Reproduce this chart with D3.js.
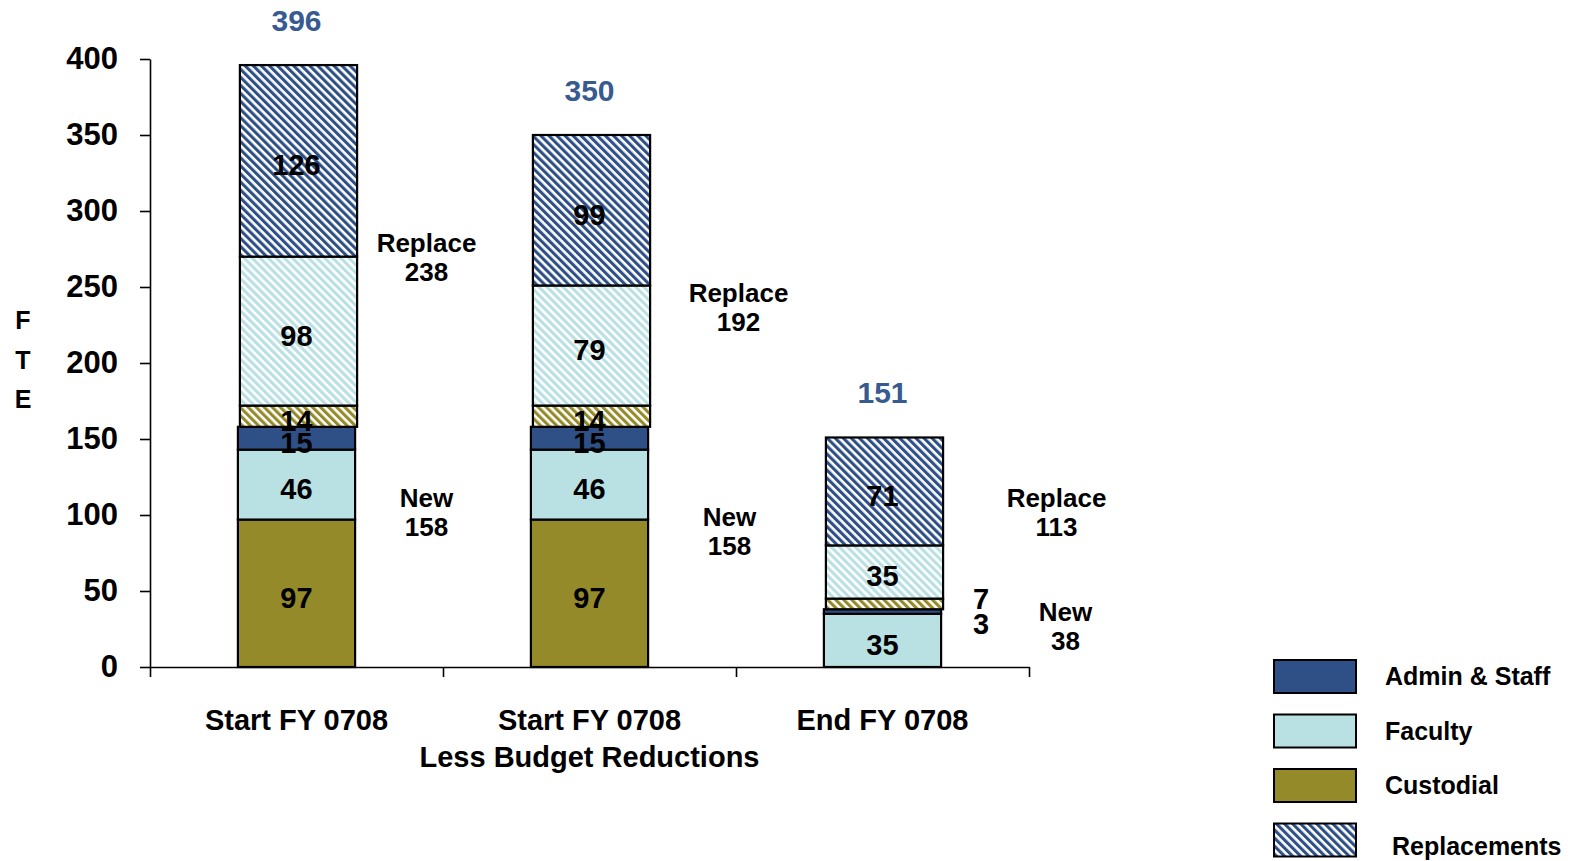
<!DOCTYPE html>
<html>
<head>
<meta charset="utf-8">
<script src="https://cdn.jsdelivr.net/npm/d3@7"></script>
<style>
  body { margin: 0; background: #fff; }
  text { font-family: "Liberation Sans", Arial, sans-serif; font-weight: bold; }
</style>
</head>
<body>
<script>
// data
const categories = [["Start FY 0708"], ["Start FY 0708", "Less Budget Reductions"], ["End FY 0708"]];
const newCustodial  = [97, 97, 0];
const newFaculty    = [46, 46, 35];
const newAdmin      = [15, 15, 3];
const replCustodial = [14, 14, 7];
const replFaculty   = [98, 79, 35];
const replAdmin     = [126, 99, 71];
const yTicks = [0, 50, 100, 150, 200, 250, 300, 350, 400];
const legendLabels = ["Admin & Staff", "Faculty", "Custodial", "Replacements"];

// layout for the side notes (anchor value on the y scale, x offset from bar centre)
const replaceNoteAt = [273, 240, 105];
const replaceNoteDx = [130, 149, 174];
const newNoteAt = [105, 93, 30];
const newNoteDx = [130, 140, 183];

const W = 1583, H = 861;
const colors = { admin: "#2E5086", faculty: "#B9E0E3", custodial: "#958A2A", total: "#375A91" };

const svg = d3.select("body").append("svg")
  .attr("width", W)
  .attr("height", H);

// hatch patterns
const defs = svg.append("defs");
function hatch(id, color) {
  const p = defs.append("pattern")
    .attr("id", id)
    .attr("patternUnits", "userSpaceOnUse")
    .attr("width", 5.7)
    .attr("height", 5.7)
    .attr("patternTransform", "rotate(-45)");
  p.append("rect").attr("width", 5.7).attr("height", 5.7).attr("fill", "#fff");
  p.append("rect").attr("width", 3.1).attr("height", 5.7).attr("fill", color);
}
hatch("h-admin", colors.admin);
hatch("h-faculty", colors.faculty);
hatch("h-custodial", colors.custodial);

const keys = ["newCustodial", "newFaculty", "newAdmin", "replCustodial", "replFaculty", "replAdmin"];
const fills = {
  newCustodial: colors.custodial, newFaculty: colors.faculty, newAdmin: colors.admin,
  replCustodial: "url(#h-custodial)", replFaculty: "url(#h-faculty)", replAdmin: "url(#h-admin)"
};

const rows = categories.map((c, i) => ({
  idx: i,
  newCustodial: newCustodial[i], newFaculty: newFaculty[i], newAdmin: newAdmin[i],
  replCustodial: replCustodial[i], replFaculty: replFaculty[i], replAdmin: replAdmin[i]
}));
const stacked = d3.stack().keys(keys)(rows);

const x = d3.scaleBand()
  .domain(d3.range(categories.length))
  .range([150, 1029])
  .paddingInner(0.6)
  .paddingOuter(0.3);
const xEdge = d3.scaleLinear().domain([0, categories.length]).range([150, 1029]);
const y = d3.scaleLinear().domain([0, 400]).range([667, 59]);

// axes
const yAxis = svg.append("g")
  .attr("transform", "translate(150,0)")
  .call(d3.axisLeft(y).tickValues(yTicks).tickSize(10).tickSizeOuter(0).tickPadding(22));
yAxis.selectAll("text")
  .style("font-size", "31px")
  .style("font-family", "'Liberation Sans', Arial, sans-serif")
  .style("font-weight", "bold")
  .attr("fill", "#000");
yAxis.selectAll("line, path").attr("stroke", "#000").attr("stroke-width", 1.6);

const xAxis = svg.append("g")
  .attr("transform", "translate(0,667)")
  .call(d3.axisBottom(xEdge).tickValues(d3.range(categories.length + 1)).tickFormat("").tickSize(10).tickSizeOuter(0));
xAxis.selectAll("line, path").attr("stroke", "#000").attr("stroke-width", 1.6);

// category labels
categories.forEach((lines, i) => {
  const t = svg.append("text")
    .attr("x", x(i) + x.bandwidth() / 2)
    .attr("y", 730)
    .attr("text-anchor", "middle")
    .style("font-size", "29px");
  lines.forEach((ln, j) => {
    t.append("tspan").attr("x", x(i) + x.bandwidth() / 2).attr("dy", j ? 37 : 0).text(ln);
  });
});

// FTE axis title
["F", "T", "E"].forEach((ch, j) => {
  svg.append("text")
    .attr("x", 23)
    .attr("y", 329 + j * 39.5)
    .attr("text-anchor", "middle")
    .style("font-size", "25px")
    .text(ch);
});

// bars
const shift = k => k.startsWith("repl") ? 2 : 0;
svg.append("g").selectAll("g")
  .data(stacked)
  .join("g")
  .attr("fill", d => fills[d.key])
  .selectAll("rect")
  .data(d => d.map(v => Object.assign(v, { key: d.key })))
  .join("rect")
  .filter(d => d[1] - d[0] > 0)
  .attr("x", d => x(d.data.idx) + shift(d.key))
  .attr("y", d => y(d[1]))
  .attr("width", x.bandwidth())
  .attr("height", d => y(d[0]) - y(d[1]))
  .attr("stroke", "#000")
  .attr("stroke-width", 2.2);

// value labels
stacked.forEach(s => {
  s.forEach(d => {
    const v = d[1] - d[0];
    if (v <= 0) return;
    const cx = x(d.data.idx) + x.bandwidth() / 2;
    const mid = y((d[0] + d[1]) / 2);
    const small = v < 10;
    svg.append("text")
      .attr("x", small ? x(d.data.idx) + x.bandwidth() + 40 : cx)
      .attr("y", small ? (s.key.startsWith("repl") ? mid - 5 : mid + 12) : mid + 4)
      .attr("dy", "0.36em")
      .attr("text-anchor", "middle")
      .style("font-size", "29px")
      .text(v);
  });
});

// totals
const totals = categories.map((c, i) =>
  newCustodial[i] + newFaculty[i] + newAdmin[i] + replCustodial[i] + replFaculty[i] + replAdmin[i]);
svg.selectAll(".total")
  .data(totals)
  .join("text")
  .attr("class", "total")
  .attr("x", (d, i) => x(i) + x.bandwidth() / 2)
  .attr("y", d => y(d) - 34)
  .attr("text-anchor", "middle")
  .attr("fill", colors.total)
  .style("font-size", "30px")
  .text(d => d);

// side notes
function note(label, value, at, dx, i) {
  const cx = x(i) + x.bandwidth() / 2 + dx;
  const t = svg.append("text")
    .attr("text-anchor", "middle")
    .style("font-size", "26px");
  t.append("tspan").attr("x", cx).attr("y", y(at)).text(label);
  t.append("tspan").attr("x", cx).attr("y", y(at) + 29).text(value);
}
categories.forEach((c, i) => {
  note("Replace", replCustodial[i] + replFaculty[i] + replAdmin[i], replaceNoteAt[i], replaceNoteDx[i], i);
  note("New", newCustodial[i] + newFaculty[i] + newAdmin[i], newNoteAt[i], newNoteDx[i], i);
});

// legend
const legendFills = [colors.admin, colors.faculty, colors.custodial, "url(#h-admin)"];
const legend = svg.append("g").selectAll("g")
  .data(legendLabels)
  .join("g")
  .attr("transform", (d, i) => `translate(1274, ${660 + i * 54.5})`);
legend.append("rect")
  .attr("width", 82)
  .attr("height", 33)
  .attr("fill", (d, i) => legendFills[i])
  .attr("stroke", "#000")
  .attr("stroke-width", 2);
legend.append("text")
  .attr("x", (d, i) => i === 3 ? 118 : 111)
  .attr("y", (d, i) => i === 3 ? 31 : 25)
  .style("font-size", "25px")
  .text(d => d);
</script>
</body>
</html>
